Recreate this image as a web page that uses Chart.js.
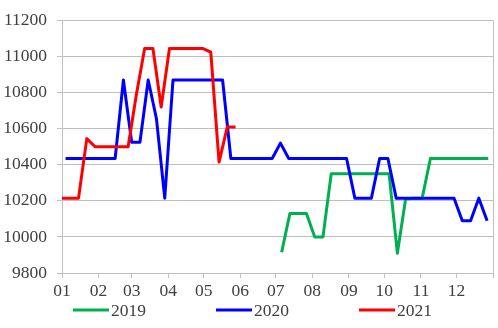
<!DOCTYPE html>
<html>
<head>
<meta charset="utf-8">
<script src="https://cdn.jsdelivr.net/npm/chart.js@4/dist/chart.umd.min.js"></script>
<style>
html,body{margin:0;padding:0;background:#fff;}
canvas{display:block;}
</style>
</head>
<body>
<canvas id="c" width="498" height="328"></canvas>
<script>
// Month tick labels and their day-of-year positions
const monthLabels = ['01','02','03','04','05','06','07','08','09','10','11','12'];
const monthStarts = [0,31,59,90,120,151,181,212,243,273,304,334];
const yearEnd = 365;

// Series labels
const seriesNames = ['2019','2020','2021'];

// 2019 (day of year, value)
const days2019 = [186,193,200,207,214,221,228,235,242,249,256,263,270,277,284,291,298,305,312,319,326,333,340,347,354,361];
const vals2019 = [9915,10130,10130,10130,10000,10000,10350,10350,10350,10350,10350,10350,10350,10350,9910,10210,10215,10215,10435,10435,10435,10435,10435,10435,10435,10435];

// 2020
const days2020 = [3,10,17,24,31,38,45,52,59,66,73,80,87,94,101,108,115,122,129,136,143,150,157,164,171,178,185,192,199,206,213,220,227,234,241,248,255,262,269,276,283,290,297,304,311,318,325,332,339,346,353,360];
const vals2020 = [10435,10435,10435,10435,10435,10435,10435,10870,10525,10525,10870,10655,10215,10870,10870,10870,10870,10870,10870,10870,10435,10435,10435,10435,10435,10435,10520,10435,10435,10435,10435,10435,10435,10435,10435,10215,10215,10215,10435,10435,10215,10215,10215,10215,10215,10215,10215,10215,10090,10090,10215,10090];

// 2021
const days2021 = [0,7,14,21,28,35,42,49,56,63,70,77,84,91,98,105,112,119,126,133,140,147];
const vals2021 = [10215,10215,10215,10545,10500,10500,10500,10500,10500,10790,11045,11045,10720,11045,11045,11045,11045,11045,11025,10415,10610,10610];

// Y axis
const yMin = 9800, yMax = 11200, yStep = 200;

const colors = ['#00b050', '#0000ff', '#ff0000'];

function pts(days, vals){ return days.map((d,i)=>({x:d, y:vals[i]})); }

const seriesData = [pts(days2019, vals2019), pts(days2020, vals2020), pts(days2021, vals2021)];

const FONT = '"Liberation Serif", "DejaVu Serif", serif';
const TEXT = '#404040';
const GRID = '#bfbfbf';

const legendPlugin = {
  id: 'lineLegend',
  afterDraw(chart){
    const ctx = chart.ctx;
    ctx.save();
    ctx.font = '17.5px ' + FONT;
    ctx.textBaseline = 'middle';
    ctx.textAlign = 'left';
    const y = 310;
    chart.data.datasets.forEach((ds, i) => {
      const x0 = 73 + 143 * i;
      ctx.strokeStyle = ds.borderColor;
      ctx.lineWidth = 3;
      ctx.beginPath();
      ctx.moveTo(x0, y);
      ctx.lineTo(x0 + 36, y);
      ctx.stroke();
      ctx.fillStyle = TEXT;
      ctx.fillText(ds.label, x0 + 38, y + 1);
    });
    ctx.restore();
  }
};

new Chart(document.getElementById('c'), {
  type: 'line',
  data: {
    datasets: seriesNames.map((name, i) => ({
      label: name,
      data: seriesData[i],
      borderColor: colors[i],
      backgroundColor: colors[i],
      borderWidth: 3,
      pointRadius: 0,
      tension: 0,
      fill: false,
      borderJoinStyle: 'round',
      order: 3 - i
    }))
  },
  options: {
    responsive: false,
    animation: false,
    devicePixelRatio: 1,
    layout: { padding: { left: 0, right: 5, top: 12, bottom: 0 } },
    plugins: {
      legend: { display: false },
      tooltip: { enabled: false }
    },
    scales: {
      x: {
        type: 'linear',
        min: 0,
        max: yearEnd,
        afterBuildTicks: (scale) => {
          scale.ticks = monthStarts.map(v => ({value: v})).concat([{value: yearEnd}]);
        },
        afterFit: (scale) => { scale.height = 55; },
        ticks: {
          autoSkip: false,
          maxRotation: 0,
          minRotation: 0,
          padding: 3,
          color: TEXT,
          font: { family: FONT, size: 17.5 },
          callback: (v) => {
            const idx = monthStarts.indexOf(v);
            return idx >= 0 ? monthLabels[idx] : '';
          }
        },
        grid: {
          drawOnChartArea: true,
          color: (c) => (c.tick && c.tick.value === yearEnd) ? GRID : 'rgba(0,0,0,0)',
          tickColor: GRID,
          tickLength: 5,
          lineWidth: 1
        },
        border: { display: true, color: GRID, width: 1 }
      },
      y: {
        min: yMin,
        max: yMax,
        afterFit: (scale) => { scale.width = 62; },
        ticks: {
          stepSize: yStep,
          padding: 10,
          color: TEXT,
          font: { family: FONT, size: 17.5 },
          callback: (v) => String(v)
        },
        grid: {
          color: GRID,
          tickColor: GRID,
          tickLength: 5,
          lineWidth: 1
        },
        border: { display: true, color: GRID, width: 1 }
      }
    }
  },
  plugins: [legendPlugin]
});
</script>
</body>
</html>
